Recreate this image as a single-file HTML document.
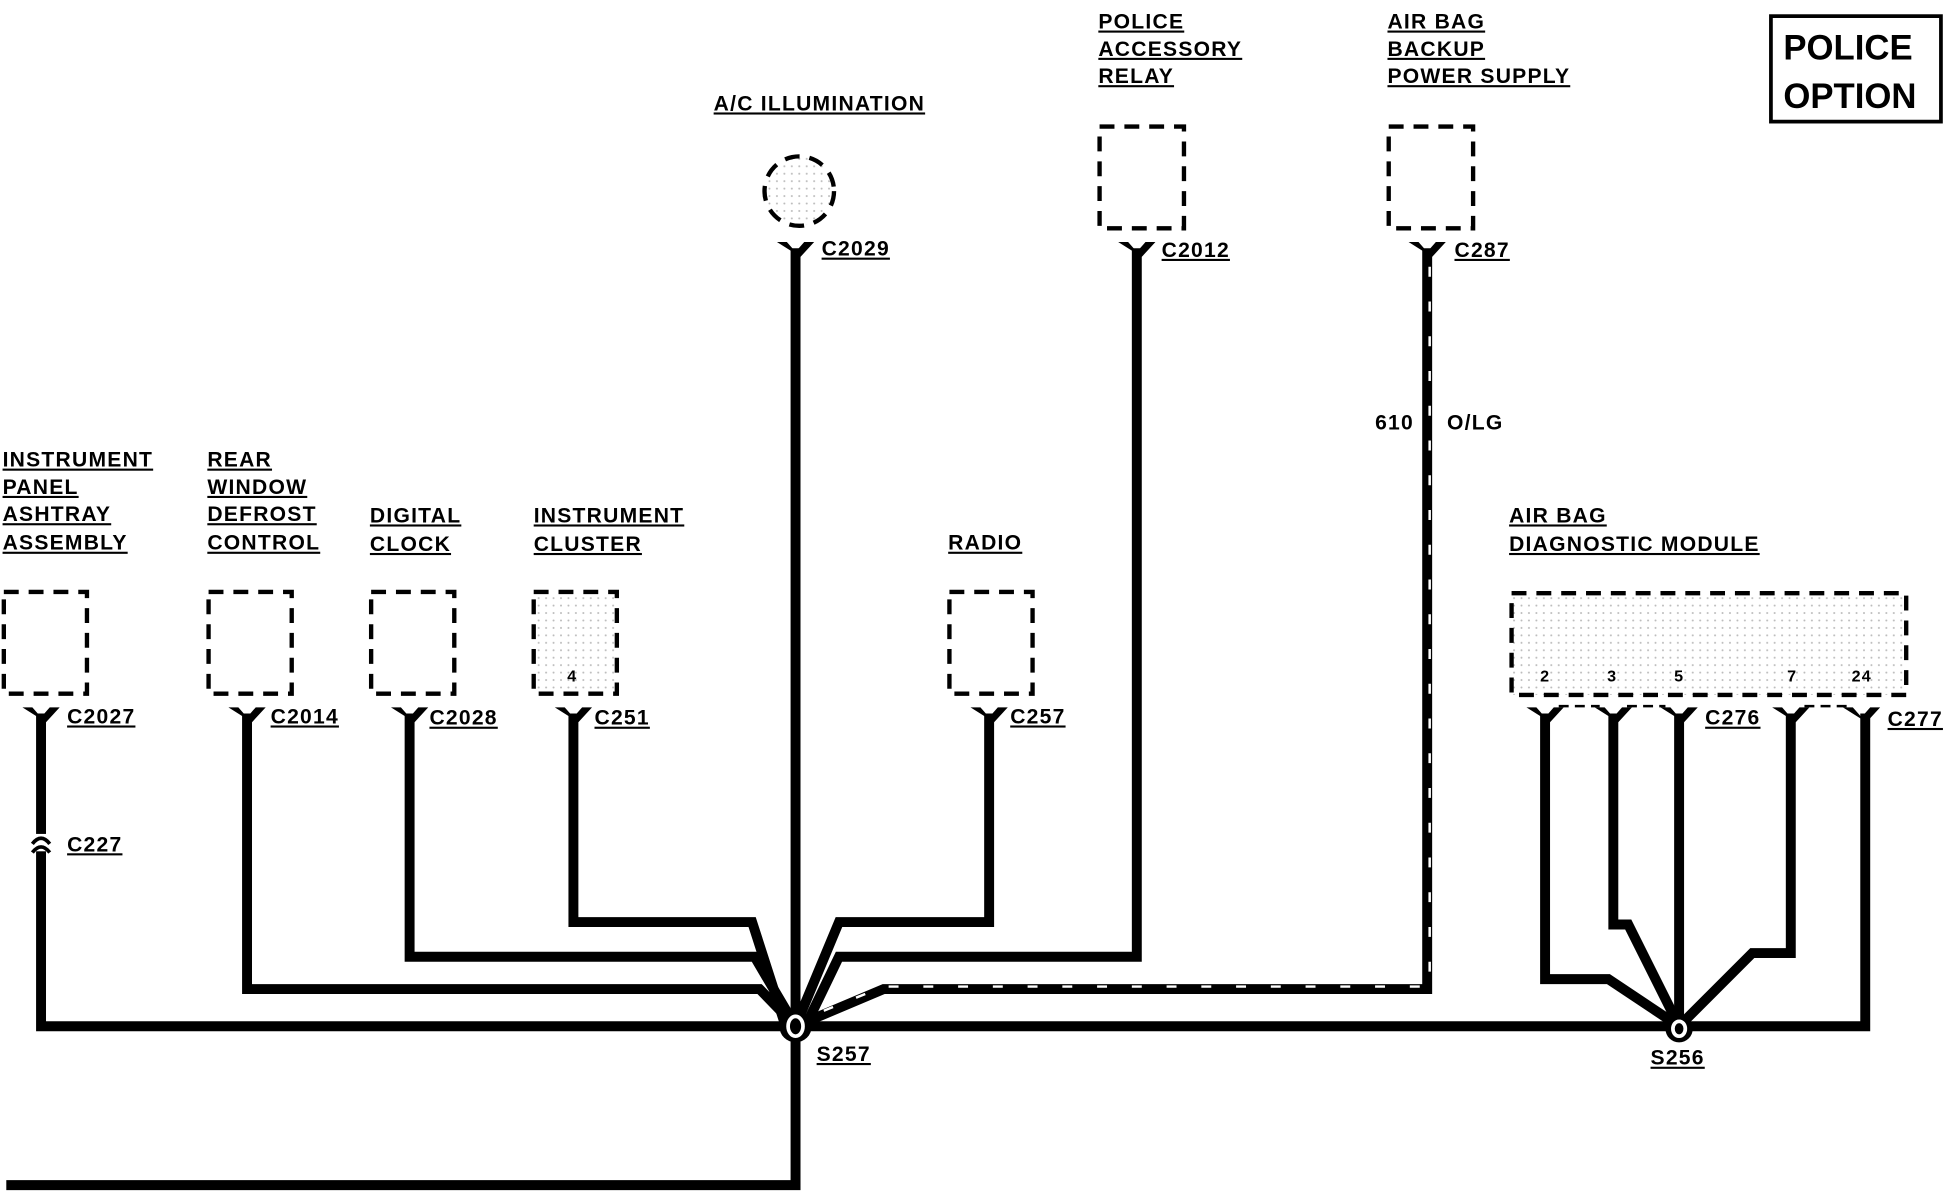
<!DOCTYPE html><html><head><style>body{margin:0;background:#fff}svg{display:block}text{font-family:"Liberation Sans",sans-serif;font-weight:bold;font-size:17px;fill:#000;letter-spacing:1px}</style></head><body>
<svg width="1946" height="1200" viewBox="0 0 1568 967" xmlns="http://www.w3.org/2000/svg">
<defs><pattern id="dots" width="6" height="6" patternUnits="userSpaceOnUse"><rect width="6" height="6" fill="#fff"/><circle cx="2" cy="2" r="0.8" fill="#bbb"/></pattern></defs>
<g fill="none" stroke="#000" stroke-width="8" stroke-linejoin="miter">
<polyline points="33,575 33,827 1503,827 1503,575"/>
<polyline points="641,200 641,955 5,955"/>
<polyline points="199,575 199,797 612,797 641,827"/>
<polyline points="330,575 330,771 608,771 641,827"/>
<polyline points="462,575 462,743 606,743 633,827"/>
<polyline points="916,200 916,771 676,771 649,827"/>
<polyline points="797,575 797,743 676,743 641,827"/>
<polyline points="1150,200 1150,797 712,797 641,827"/>
<polyline points="1245,575 1245,789 1296,789 1353,827"/>
<polyline points="1300,575 1300,745 1312,745 1353,827"/>
<polyline points="1353,575 1353,827"/>
<polyline points="1443,575 1443,768 1412,768 1353,827"/>
</g>
<g stroke="#fff" stroke-width="2" stroke-dasharray="8 20" fill="none"><polyline points="1152,215 1152,795 712,795 660,816"/></g>
<g fill="#000">
<circle cx="641" cy="827" r="13"/><circle cx="1353" cy="829" r="11"/>
</g>
<ellipse cx="641" cy="827" rx="6" ry="8" fill="#000" stroke="#fff" stroke-width="3"/>
<ellipse cx="1353" cy="829" rx="5" ry="6" fill="#000" stroke="#fff" stroke-width="3"/>
<g fill="#000">
<path d="M626,195 l8,0 l7,8 l7,-8 l8,0 l-11,12 z"/><path d="M901,195 l8,0 l7,8 l7,-8 l8,0 l-11,12 z"/><path d="M1135,195 l8,0 l7,8 l7,-8 l8,0 l-11,12 z"/>
<path d="M18,570 l8,0 l7,8 l7,-8 l8,0 l-11,12 z"/><path d="M184,570 l8,0 l7,8 l7,-8 l8,0 l-11,12 z"/><path d="M315,570 l8,0 l7,8 l7,-8 l8,0 l-11,12 z"/><path d="M447,570 l8,0 l7,8 l7,-8 l8,0 l-11,12 z"/><path d="M782,570 l8,0 l7,8 l7,-8 l8,0 l-11,12 z"/>
<path d="M1230,570 l8,0 l7,8 l7,-8 l8,0 l-11,12 z"/><path d="M1285,570 l8,0 l7,8 l7,-8 l8,0 l-11,12 z"/><path d="M1338,570 l8,0 l7,8 l7,-8 l8,0 l-11,12 z"/><path d="M1428,570 l8,0 l7,8 l7,-8 l8,0 l-11,12 z"/><path d="M1485,570 l8,0 l7,8 l7,-8 l8,0 l-11,12 z"/>
</g>
<path d="M1256,569 H1289 M1311,569 H1342 M1454,569 H1489" stroke="#000" stroke-width="2" stroke-dasharray="8 5"/>
<rect x="26" y="672" width="16" height="14" fill="#fff"/>
<path d="M26,680 q7,-9 14,0 M26,687 q7,-9 14,0" stroke="#000" stroke-width="3" fill="none"/>
<g stroke="#000" stroke-width="3.5" stroke-dasharray="12 8" fill="#fff">
<circle cx="644" cy="154" r="28" fill="url(#dots)"/>
<rect x="886" y="102" width="68" height="82"/>
<rect x="1119" y="102" width="68" height="82"/>
<rect x="3" y="477" width="67" height="82"/>
<rect x="168" y="477" width="67" height="82"/>
<rect x="299" y="477" width="67" height="82"/>
<rect x="430" y="477" width="67" height="82" fill="url(#dots)"/>
<rect x="765" y="477" width="67" height="82"/>
<rect x="1218" y="478" width="318" height="82" fill="url(#dots)"/>
</g>
<g><text x="457" y="549" style="font-size:13px">4</text><text x="1241" y="549" style="font-size:13px">2</text><text x="1295" y="549" style="font-size:13px">3</text><text x="1349" y="549" style="font-size:13px">5</text><text x="1440" y="549" style="font-size:13px">7</text><text x="1492" y="549" style="font-size:13px">24</text></g>
<rect x="1427" y="13" width="137" height="85" fill="#fff" stroke="#000" stroke-width="3"/>
<text x="1437" y="48" style="font-size:28px;letter-spacing:0">POLICE</text><text x="1437" y="87" style="font-size:28px;letter-spacing:0">OPTION</text>
<g text-decoration="underline">
<text x="575" y="89">A/C ILLUMINATION</text>
<text x="885" y="23">POLICE</text><text x="885" y="45">ACCESSORY</text><text x="885" y="67">RELAY</text>
<text x="1118" y="23">AIR BAG</text><text x="1118" y="45">BACKUP</text><text x="1118" y="67">POWER SUPPLY</text>
<text x="2" y="376">INSTRUMENT</text><text x="2" y="398">PANEL</text><text x="2" y="420">ASHTRAY</text><text x="2" y="443">ASSEMBLY</text>
<text x="167" y="376">REAR</text><text x="167" y="398">WINDOW</text><text x="167" y="420">DEFROST</text><text x="167" y="443">CONTROL</text>
<text x="298" y="421">DIGITAL</text><text x="298" y="444">CLOCK</text>
<text x="430" y="421">INSTRUMENT</text><text x="430" y="444">CLUSTER</text>
<text x="764" y="443">RADIO</text>
<text x="1216" y="421">AIR BAG</text><text x="1216" y="444">DIAGNOSTIC MODULE</text>
<text x="662" y="206">C2029</text><text x="936" y="207">C2012</text><text x="1172" y="207">C287</text>
<text x="54" y="583">C2027</text><text x="218" y="583">C2014</text><text x="346" y="584">C2028</text><text x="479" y="584">C251</text><text x="814" y="583">C257</text>
<text x="1374" y="584">C276</text><text x="1521" y="585">C277</text>
<text x="54" y="686">C227</text><text x="658" y="855">S257</text><text x="1330" y="858">S256</text>
</g>
<text x="1108" y="346">610</text><text x="1166" y="346">O/LG</text>
</svg></body></html>
